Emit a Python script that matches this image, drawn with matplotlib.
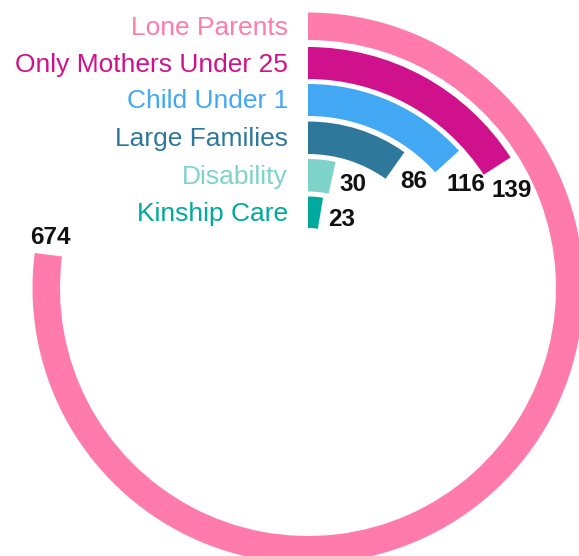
import numpy as np
import matplotlib
matplotlib.use("Agg")
import matplotlib.pyplot as plt

# ---- data ----
categories = ["Lone Parents", "Only Mothers Under 25", "Child Under 1",
              "Large Families", "Disability", "Kinship Care"]
values = [674, 139, 116, 86, 30, 23]
colors = ["#FF7BAC", "#D0118C", "#42A8F4", "#2E789C", "#7ED3CB", "#00A99D"]
full_circle_value = 875  # value corresponding to a full turn

# ---- layout (pixels) ----
W, H, DPI = 579, 556, 100
cx, cy = 308, 288          # centre in image pixel coords (from top)
R = 290                    # axis radius in px
band_inner = [248, 209, 172, 134, 96.5, 60]
band_outer = [275.5, 241, 204, 166.5, 129, 91.5]

fig = plt.figure(figsize=(W / DPI, H / DPI), dpi=DPI)
fig.patch.set_facecolor("white")
ax = fig.add_axes([(cx - R) / W, (H - cy - R) / H, 2 * R / W, 2 * R / H],
                  projection="polar")
ax.set_theta_zero_location("N")
ax.set_theta_direction(-1)
ax.set_ylim(0, R)
ax.axis("off")

theta_end = [v / full_circle_value * 2 * np.pi for v in values]
for i, (cat, v, col) in enumerate(zip(categories, values, colors)):
    ax.bar(0, band_outer[i] - band_inner[i], width=theta_end[i],
           bottom=band_inner[i], align="edge", color=col, edgecolor="none",
           linewidth=0)
    rmid = (band_inner[i] + band_outer[i]) / 2
    # category label left of the start
    ax.annotate(cat, xy=(0, rmid), xytext=(-20, 1), textcoords="offset pixels",
                ha="right", va="center_baseline", color=col,
                fontsize=19, family="Liberation Sans", fontweight="normal",
                annotation_clip=False)
    # value label just beyond the bar end, along the tangent
    t = theta_end[i]
    tx, ty = np.cos(t), -np.sin(t)
    hw = 0.5 * 13.5 * len(str(v))
    hh = 11
    d = 6 + hw * abs(tx) + hh * abs(ty)
    ax.annotate(str(v), xy=(t, rmid), xytext=(d * tx, d * ty),
                textcoords="offset pixels", ha="center", va="center_baseline",
                color="#111111", fontsize=17.5, family="Liberation Sans",
                fontweight="bold", annotation_clip=False)

fig.savefig("out.png", dpi=DPI, facecolor="white")
